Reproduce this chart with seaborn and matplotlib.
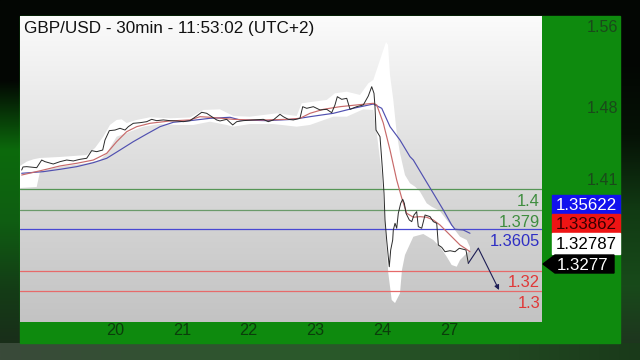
import numpy as np
import matplotlib
matplotlib.use("Agg")
import matplotlib.pyplot as plt
import seaborn as sns
from matplotlib.patches import Rectangle, Polygon
from matplotlib.colors import LinearSegmentedColormap

# ---------------- data ----------------
title = "GBP/USD - 30min - 11:53:02 (UTC+2)"
day_ticks = [0, 1, 2, 3, 4, 5]
day_labels = ["20", "21", "22", "23", "24", "27"]
right_ticks = [1.41, 1.48, 1.56]

price_x = [-1.397, -1.377, -1.322, -1.172, -1.097, -1.048, -0.924, -0.823, -0.723, -0.624,
           -0.524, -0.424, -0.349, -0.274, -0.184, -0.150, -0.085, 0.000, 0.075, 0.150,
           0.199, 0.274, 0.374, 0.475, 0.549, 0.624, 0.723, 0.823, 0.924, 1.022,
           1.123, 1.223, 1.298, 1.373, 1.448, 1.522, 1.572, 1.672, 1.762, 1.822,
           1.921, 2.070, 2.220, 2.295, 2.370, 2.470, 2.519, 2.594, 2.669, 2.769,
           2.810, 2.870, 2.969, 3.069, 3.169, 3.244, 3.293, 3.328, 3.394, 3.469,
           3.518, 3.618, 3.717, 3.792, 3.843, 3.877, 3.892, 3.907, 3.967, 3.993,
           4.007, 4.027, 4.042, 4.067, 4.091, 4.106, 4.127, 4.157, 4.166, 4.192,
           4.217, 4.241, 4.277, 4.307, 4.331, 4.356, 4.406, 4.442, 4.476, 4.516,
           4.540, 4.591, 4.641, 4.716, 4.765, 4.816, 4.840, 4.891, 4.940, 5.015,
           5.090, 5.154, 5.214, 5.254, 5.289]
price_y = [1.4186, 1.4216, 1.4219, 1.4209, 1.4284, 1.4268, 1.4245, 1.4268, 1.4284, 1.4275,
           1.4291, 1.4301, 1.4376, 1.4366, 1.4382, 1.4480, 1.4572, 1.4578, 1.4595, 1.4578,
           1.4611, 1.4644, 1.4650, 1.4660, 1.4683, 1.4670, 1.4677, 1.4670, 1.4667, 1.4660,
           1.4670, 1.4716, 1.4752, 1.4742, 1.4709, 1.4677, 1.4667, 1.4683, 1.4628, 1.4660,
           1.4670, 1.4677, 1.4683, 1.4660, 1.4677, 1.4732, 1.4709, 1.4683, 1.4677, 1.4693,
           1.4807, 1.4791, 1.4807, 1.4775, 1.4781, 1.4748, 1.4824, 1.4905, 1.4879, 1.4889,
           1.4781, 1.4807, 1.4824, 1.4912, 1.5003, 1.4938, 1.4807, 1.4578, 1.4513, 1.4284,
           1.4157, 1.3958, 1.3696, 1.3500, 1.3336, 1.3238, 1.3402, 1.3500, 1.3598, 1.3664,
           1.3615, 1.3762, 1.3860, 1.3899, 1.3860, 1.3762, 1.3696, 1.3680, 1.3745, 1.3778,
           1.3631, 1.3615, 1.3745, 1.3729, 1.3680, 1.3664, 1.3451, 1.3428, 1.3385, 1.3395,
           1.3385, 1.3419, 1.3409, 1.3402, 1.3272]

ma_fast_x = [-1.397, -1.073, -0.823, -0.573, -0.325, -0.124, 0.025, 0.175, 0.325, 0.524,
             0.823, 1.123, 1.272, 1.422, 1.771, 2.021, 2.271, 2.570, 2.769, 2.919,
             3.118, 3.368, 3.618, 3.867, 3.918, 4.016, 4.117, 4.217, 4.292, 4.367,
             4.466, 4.566, 4.666, 4.765, 4.865, 4.966, 5.064, 5.165, 5.240, 5.314]
ma_fast_y = [1.4137, 1.4186, 1.4226, 1.4252, 1.4284, 1.4350, 1.4464, 1.4562, 1.4611, 1.4644,
             1.4667, 1.4677, 1.4709, 1.4703, 1.4683, 1.4677, 1.4677, 1.4683, 1.4693, 1.4742,
             1.4781, 1.4807, 1.4824, 1.4840, 1.4824, 1.4647, 1.4382, 1.4088, 1.3912, 1.3762,
             1.3723, 1.3729, 1.3723, 1.3696, 1.3647, 1.3581, 1.3517, 1.3451, 1.3419, 1.3385]

ma_slow_x = [-1.397, -1.073, -0.823, -0.573, -0.325, -0.124, 0.075, 0.274, 0.475, 0.674,
             0.873, 1.123, 1.422, 1.722, 1.871, 2.271, 2.669, 2.919, 3.268, 3.567,
             3.867, 3.993, 4.117, 4.266, 4.416, 4.466, 4.615, 4.765, 4.915, 5.040,
             5.090, 5.214, 5.314]
ma_slow_y = [1.4154, 1.4170, 1.4193, 1.4219, 1.4258, 1.4301, 1.4382, 1.4464, 1.4539, 1.4611,
             1.4654, 1.4670, 1.4693, 1.4703, 1.4677, 1.4670, 1.4683, 1.4709, 1.4742, 1.4791,
             1.4833, 1.4791, 1.4611, 1.4480, 1.4317, 1.4284, 1.4121, 1.3958, 1.3794, 1.3647,
             1.3605, 1.3598, 1.3566]

band_up_x = [-1.422, -1.322, -1.223, -1.123, -0.823, -0.424, -0.299, -0.175, -0.075, 0.025,
             0.100, 0.175, 0.325, 0.524, 0.823, 1.123, 1.322, 1.572, 1.771, 2.021,
             2.421, 2.720, 2.795, 2.969, 3.169, 3.293, 3.469, 3.668, 3.792, 3.867,
             3.967, 4.057, 4.087, 4.117, 4.166, 4.217, 4.266, 4.341, 4.416, 4.491,
             4.566, 4.666, 4.741, 4.865, 4.966, 5.064, 5.165, 5.265, 5.314]
band_up_y = [1.4226, 1.4268, 1.4291, 1.4304, 1.4314, 1.4333, 1.4402, 1.4513, 1.4628, 1.4677,
             1.4683, 1.4647, 1.4677, 1.4703, 1.4693, 1.4701, 1.4775, 1.4781, 1.4716, 1.4709,
             1.4742, 1.4716, 1.4840, 1.4856, 1.4873, 1.4938, 1.4954, 1.4922, 1.5036, 1.5069,
             1.5265, 1.5441, 1.5412, 1.5118, 1.4873, 1.4549, 1.4353, 1.4137, 1.4056, 1.4023,
             1.3974, 1.3860, 1.3826, 1.3784, 1.3696, 1.3618, 1.3532, 1.3500, 1.3431]
band_lo_x = [-1.422, -1.172, -1.123, -0.823, -0.424, -0.225, -0.124, 0.025, 0.225, 0.424,
             0.674, 0.924, 1.172, 1.422, 1.672, 1.771, 2.021, 2.370, 2.720, 2.919,
             3.268, 3.469, 3.717, 3.867, 3.918, 3.993, 4.042, 4.091, 4.142, 4.192,
             4.266, 4.296, 4.341, 4.416, 4.466, 4.615, 4.765, 4.865, 4.966, 5.040,
             5.115, 5.165, 5.265, 5.314]
band_lo_y = [1.4010, 1.4020, 1.4170, 1.4219, 1.4252, 1.4284, 1.4350, 1.4513, 1.4562, 1.4611,
             1.4637, 1.4628, 1.4628, 1.4660, 1.4628, 1.4611, 1.4637, 1.4637, 1.4611, 1.4628,
             1.4709, 1.4709, 1.4781, 1.4775, 1.4549, 1.4157, 1.3667, 1.3177, 1.2912, 1.2882,
             1.2977, 1.3206, 1.3353, 1.3461, 1.3532, 1.3559, 1.3500, 1.3434, 1.3336, 1.3255,
             1.3238, 1.3304, 1.3370, 1.3402]

forecast_x = [5.289, 5.439, 5.749]
forecast_y = [1.3272, 1.3419, 1.3010]

level_values = [1.4, 1.379, 1.3605, 1.32, 1.30]
level_labels = ["1.4", "1.379", "1.3605", "1.32", "1.3"]
level_colors = ["#559555", "#6a9a6a", "#4848d2", "#e66a6a", "#e66a6a"]
level_text_colors = ["#3f8d3f", "#3f8d3f", "#2f2fc4", "#e03838", "#e03838"]

box_labels = ["1.35622", "1.33862", "1.32787"]
box_faces = ["#1212ee", "#ee1414", "#ffffff"]
box_text_colors = ["#ffffff", "#3a0000", "#000000"]
last_label = "1.3277"

# ---------------- style ----------------
sns.set_theme(style="white")
plt.rcParams["font.family"] = ["Liberation Sans", "DejaVu Sans"]

W, H = 640, 360
L, R, T, B = 19.6, 541.6, 16.0, 321.7
XMIN, XMAX = -1.428, 6.386
YMIN, YMAX = 1.2699, 1.5696

fig = plt.figure(figsize=(6.4, 3.6), dpi=100)
fig.patch.set_facecolor("#020402")

# background / frame layer in pixel coordinates
bg = fig.add_axes([0, 0, 1, 1], zorder=0)
bg.set_xlim(0, W)
bg.set_ylim(H, 0)
bg.axis("off")
bg.add_patch(Rectangle((0, 0), W, H, color="#030603"))
left_cmap = LinearSegmentedColormap.from_list(
    "l", ["#030603", "#0c6a0c", "#0f5e12", "#143c16", "#1b2a1b"])
bg.imshow(np.linspace(0, 1, 256)[:, None], extent=[0, 19.6, 360, 80],
          aspect="auto", cmap=left_cmap, zorder=1)
right_cmap = LinearSegmentedColormap.from_list(
    "r", ["#030603", "#061206", "#113a13", "#184a1a", "#203020"])
bg.imshow(np.linspace(0, 1, 256)[:, None], extent=[620, 640, 360, 60],
          aspect="auto", cmap=right_cmap, zorder=1)
bottom_cmap = LinearSegmentedColormap.from_list("b", ["#3a4a3a", "#2a5a2a", "#1a3a1a"])
bg.imshow(np.linspace(0, 1, 256)[None, :], extent=[0, 640, 360, 343],
          aspect="auto", cmap=bottom_cmap, zorder=1)
bg.add_patch(Rectangle((L, T), 620 - L, 343 - T, color="#0e8a0e", zorder=2))

# value boxes on the right
box_tops = [195.0, 213.5, 233.0]
box_bots = [213.5, 233.0, 253.5]
for lab, fc, tc, t0, t1 in zip(box_labels, box_faces, box_text_colors, box_tops, box_bots):
    bg.add_patch(Rectangle((551.6, t0), 620 - 551.6, t1 - t0, color=fc, zorder=3))
    bg.text(556, (t0 + t1) / 2 + 6.2, lab, color=tc, fontsize=12.2,
            ha="left", va="baseline", zorder=4)
bg.add_patch(Polygon([(543, 264), (555, 255), (614, 255), (614, 273), (555, 273)],
                     closed=True, color="#000000", zorder=3))
bg.text(556.5, 264 + 6.2, last_label, color="white", fontsize=12.2,
        ha="left", va="baseline", zorder=4)

# main chart
ax = fig.add_axes([L / W, 1 - B / H, (R - L) / W, (B - T) / H], zorder=2)
ax.patch.set_visible(False)
ax.set_xlim(XMIN, XMAX)
ax.set_ylim(YMIN, YMAX)

grad_cmap = LinearSegmentedColormap.from_list("g", ["#c3c3c3", "#dcdcdc", "#fbfbfb"])
ax.imshow(np.linspace(0, 1, 256)[:, None], extent=[XMIN, XMAX, YMIN, YMAX],
          origin="lower", aspect="auto", cmap=grad_cmap, zorder=0)

# envelope
ax.fill(np.concatenate([band_up_x, band_lo_x[::-1]]),
        np.concatenate([band_up_y, band_lo_y[::-1]]),
        color="white", lw=0, zorder=1)

# horizontal levels
for val, lab, lc, tc in zip(level_values, level_labels, level_colors, level_text_colors):
    ax.axhline(val, color=lc, lw=0.9, zorder=2)
    ax.annotate(lab, xy=(1, val), xycoords=("axes fraction", "data"),
                xytext=(-1.5, -16.6), textcoords="offset pixels",
                ha="right", va="baseline", color=tc, fontsize=11.9, zorder=5)

# lines
sns.lineplot(x=ma_slow_x, y=ma_slow_y, ax=ax, color="#5050b0", lw=0.85,
             estimator=None, sort=False, zorder=3)
sns.lineplot(x=ma_fast_x, y=ma_fast_y, ax=ax, color="#c86a6a", lw=0.85,
             estimator=None, sort=False, zorder=3)
sns.lineplot(x=price_x, y=price_y, ax=ax, color="#2a2a2a", lw=0.7,
             estimator=None, sort=False, zorder=4)

# forecast arrow
sns.lineplot(x=forecast_x[:2], y=forecast_y[:2], ax=ax, color="#1e1e55", lw=0.8,
             estimator=None, sort=False, zorder=4)
ax.annotate("", xy=(forecast_x[2], forecast_y[2]), xytext=(forecast_x[1], forecast_y[1]),
            arrowprops=dict(arrowstyle="-|>", color="#1e1e55", lw=0.8,
                            mutation_scale=7, shrinkA=0, shrinkB=0), zorder=4)

# axes decoration
for s in ax.spines.values():
    s.set_visible(False)
ax.set_xlabel("")
ax.set_ylabel("")
ax.set_xticks(day_ticks, day_labels)
ax.tick_params(axis="x", length=0, pad=1, labelsize=11.7, labelcolor="#0b3d0b")
ax.yaxis.tick_right()
ax.set_yticks(right_ticks, [f"{v:.2f}" for v in right_ticks])
ax.tick_params(axis="y", length=0, pad=55, labelsize=11.6, labelcolor="#1a4a1a")
for t in ax.get_yticklabels():
    t.set_ha("right")
ax.grid(False)

fig.text(24.5 / W, 1 - 32.5 / H, title, fontsize=12.3, color="#111111",
         ha="left", va="baseline", zorder=10)

fig.savefig("out.png", dpi=100, facecolor=fig.get_facecolor())
